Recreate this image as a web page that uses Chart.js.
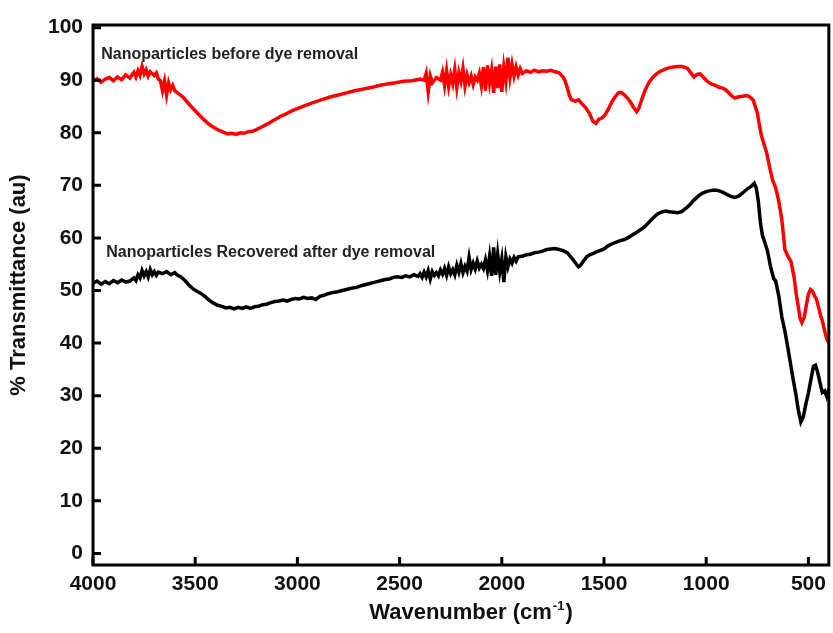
<!DOCTYPE html>
<html><head><meta charset="utf-8">
<script src="https://cdn.jsdelivr.net/npm/chart.js@4/dist/chart.umd.min.js"></script>
<style>html,body{margin:0;padding:0;background:#fff}</style>
</head><body>
<canvas id="c" width="833" height="633"></canvas>
<script>
// ---- data ----
const redWave = [4000,3980,3960,3940,3920,3900,3880,3860,3840,3820,3800,3790,3780,3770,3760,3750,3740,3730,3720,3700,3690,3680,3670,3660,3650,3640,3630,3620,3610,3600,3580,3560,3540,3520,3500,3480,3460,3440,3420,3400,3380,3360,3340,3320,3300,3280,3260,3240,3220,3200,3180,3160,3140,3120,3100,3080,3060,3040,3020,3000,2960,2920,2880,2840,2800,2760,2720,2680,2640,2600,2560,2520,2480,2440,2400,2380,2370,2360,2350,2340,2320,2300,2290,2280,2270,2260,2250,2240,2230,2220,2210,2200,2190,2180,2170,2160,2150,2140,2130,2120,2110,2100,2090,2080,2070,2060,2050,2040,2030,2020,2010,2000,1990,1980,1970,1960,1950,1940,1930,1920,1910,1900,1880,1860,1840,1820,1800,1780,1760,1740,1720,1700,1690,1680,1670,1660,1640,1625,1610,1590,1570,1555,1540,1525,1510,1495,1480,1465,1450,1430,1415,1400,1385,1370,1355,1340,1330,1320,1300,1280,1260,1240,1220,1200,1180,1160,1140,1120,1100,1090,1075,1060,1045,1030,1015,1000,985,970,955,940,920,905,890,875,860,845,830,815,800,790,780,770,760,750,740,730,720,705,690,675,660,645,630,615,600,585,570,560,550,540,532,520,510,500,490,480,470,460,450,440,430,420,410,400];
const redT = [89.8,90.3,89.6,90.2,90.5,89.9,90.6,90.1,91.0,90.4,91.5,90.6,91.8,90.9,92.6,91.2,92.0,90.8,91.6,90.9,91.4,90.2,89.9,88.0,89.8,87.2,89.5,88.2,89.0,88.0,87.4,86.8,85.9,85.0,84.2,83.4,82.6,81.9,81.3,80.8,80.4,80.1,79.8,79.9,79.7,80.0,79.9,80.2,80.3,80.6,81.0,81.4,81.8,82.3,82.7,83.2,83.5,83.9,84.3,84.6,85.2,85.8,86.3,86.8,87.2,87.6,88.0,88.3,88.6,89.0,89.3,89.5,89.8,89.9,90.2,90.0,91.3,87.8,90.8,89.5,90.5,90.0,91.5,89.0,91.8,88.8,91.0,89.4,92.0,88.6,91.4,89.8,92.2,88.9,91.0,89.6,90.8,89.2,90.6,90.0,91.3,89.0,92.5,88.0,92.8,89.5,91.9,87.6,92.6,88.5,93.0,87.8,92.5,89.8,94.3,90.5,93.0,90.8,92.5,91.0,92.2,91.3,91.8,91.5,91.9,91.6,91.8,91.7,91.9,91.6,91.4,90.6,89.8,88.6,87.2,86.3,86.0,86.3,85.6,84.8,83.6,82.2,81.8,82.6,82.8,83.4,84.4,85.6,86.6,87.6,87.7,87.2,86.6,85.8,84.8,84.0,84.6,85.8,88.0,89.6,90.6,91.3,91.8,92.1,92.4,92.5,92.6,92.6,92.4,92.2,91.4,90.6,91.1,91.2,90.6,90.0,89.5,89.2,89.0,88.7,88.5,88.2,87.6,87.0,86.6,86.8,86.9,87.0,87.1,86.9,86.6,86.2,85.0,83.8,81.5,79.5,78.2,76.3,73.5,71.0,69.5,67.0,63.5,57.8,56.5,55.5,52.5,49.5,47.0,44.6,43.9,45.0,47.2,49.3,50.2,49.9,49.0,48.3,46.8,45.2,44.0,42.2,40.8,40.0];

const blackWave = [4000,3980,3960,3940,3920,3900,3880,3860,3840,3820,3800,3790,3780,3770,3760,3750,3740,3730,3720,3710,3700,3690,3680,3660,3640,3620,3600,3590,3570,3550,3530,3510,3490,3470,3450,3430,3410,3390,3370,3350,3330,3310,3290,3270,3250,3230,3210,3190,3170,3150,3130,3110,3090,3070,3050,3030,3010,2990,2970,2950,2930,2910,2890,2870,2850,2830,2810,2790,2770,2750,2730,2710,2690,2670,2650,2630,2610,2590,2570,2550,2530,2510,2490,2470,2450,2430,2410,2400,2390,2380,2370,2360,2350,2340,2330,2320,2310,2300,2290,2280,2270,2260,2250,2240,2230,2220,2210,2200,2190,2180,2170,2160,2150,2140,2130,2120,2110,2100,2090,2080,2070,2060,2050,2040,2030,2020,2010,2000,1990,1980,1970,1960,1950,1940,1930,1920,1900,1880,1860,1840,1820,1800,1780,1760,1740,1720,1700,1680,1665,1650,1635,1625,1615,1600,1585,1570,1555,1540,1520,1500,1480,1460,1440,1420,1400,1380,1360,1340,1320,1300,1280,1260,1240,1220,1200,1180,1160,1140,1120,1100,1080,1060,1040,1020,1000,980,960,940,920,900,880,860,840,820,800,780,765,755,745,735,725,712,700,685,670,660,645,630,615,600,585,575,560,550,537,525,512,500,488,475,465,455,444,432,420,410,400];
const blackT = [51.4,51.8,51.2,51.7,51.3,51.9,51.5,52.0,51.6,51.8,52.4,51.9,53.0,52.4,53.8,52.8,53.6,52.6,54.0,53.0,53.6,52.9,53.5,53.2,53.6,53.0,53.4,53.0,52.6,51.9,51.0,50.3,49.8,49.4,48.8,48.1,47.6,47.2,47.0,46.7,46.8,46.5,46.8,46.6,46.9,46.6,46.9,47.0,47.3,47.4,47.7,47.9,48.0,48.2,48.0,48.3,48.5,48.4,48.7,48.5,48.6,48.3,48.9,49.1,49.4,49.6,49.7,49.9,50.1,50.3,50.5,50.6,50.9,51.1,51.3,51.5,51.7,51.9,52.1,52.2,52.5,52.6,52.5,52.8,52.6,53.0,52.7,53.2,52.5,53.5,52.6,53.8,52.2,53.6,52.9,53.4,52.8,53.9,53.1,54.2,52.9,54.5,53.2,54.0,53.0,54.8,53.5,55.1,53.4,54.6,53.7,56.3,54.0,55.2,54.1,55.6,54.3,55.0,54.2,55.8,53.8,56.5,52.8,58.2,53.0,56.9,53.6,56.0,51.6,56.4,54.5,56.0,55.2,56.3,55.6,56.4,56.5,56.8,56.9,57.2,57.3,57.5,57.8,57.9,58.0,57.8,57.6,57.2,56.5,55.8,55.0,54.5,54.8,55.6,56.4,56.8,57.0,57.3,57.6,57.9,58.5,58.9,59.2,59.5,59.7,60.1,60.6,61.1,61.6,62.2,63.0,63.8,64.5,64.9,65.1,65.0,64.9,64.8,65.0,65.6,66.3,67.2,67.9,68.5,68.8,69.0,69.1,69.0,68.7,68.3,67.9,67.7,68.0,68.6,69.3,69.8,70.4,69.5,67.0,63.0,60.5,59.0,57.5,54.5,52.3,51.8,49.0,45.0,42.3,39.0,35.5,33.2,30.0,27.4,25.0,26.0,28.5,30.5,33.0,35.6,35.8,34.5,32.6,30.6,30.9,29.8,31.2];

const xTicks = [4000,3500,3000,2500,2000,1500,1000,500];
const yTicks = [0,10,20,30,40,50,60,70,80,90,100];
const seriesNames = ["Nanoparticles before dye removal", "Nanoparticles Recovered after dye removal"];
const xTitle = ["Wavenumber (cm", "-1", ")"];
const yTitle = "% Transmittance (au)";

// ---- chart ----
const toPts = (w, t) => w.map((x, i) => ({x: x, y: t[i]}));
const FAM = '"Liberation Sans", Arial, sans-serif';

const frameAndTicks = {
  id: 'frameAndTicks',
  afterDraw(chart) {
    const ctx = chart.ctx, a = chart.chartArea;
    const xs = chart.scales.x, ys = chart.scales.y;
    ctx.save();
    ctx.strokeStyle = '#000';
    ctx.lineWidth = 3;
    ctx.lineCap = 'butt';
    ctx.beginPath();
    xs.ticks.forEach(t => {
      const px = xs.getPixelForValue(t.value);
      ctx.moveTo(px, a.bottom); ctx.lineTo(px, a.bottom - 8);
    });
    ys.ticks.forEach(t => {
      const py = ys.getPixelForValue(t.value);
      ctx.moveTo(a.left, py); ctx.lineTo(a.left + 8, py);
    });
    ctx.stroke();
    ctx.strokeRect(a.left, a.top, a.right - a.left, a.bottom - a.top);
    // series annotations
    ctx.fillStyle = '#222';
    ctx.font = 'bold 16px ' + FAM;
    ctx.textBaseline = 'middle';
    ctx.textAlign = 'left';
    ctx.fillText(seriesNames[0], xs.getPixelForValue(3960), ys.getPixelForValue(94.8));
    ctx.fillText(seriesNames[1], xs.getPixelForValue(3935), ys.getPixelForValue(57.3));
    // x-axis title with superscript
    ctx.fillStyle = '#111';
    const big = 'bold 22px ' + FAM, small = 'bold 13px ' + FAM;
    ctx.font = big; const w1 = ctx.measureText(xTitle[0]).width; const w3 = ctx.measureText(xTitle[2]).width;
    ctx.font = small; const w2 = ctx.measureText(xTitle[1]).width;
    let x0 = 470 - (w1 + w2 + w3) / 2;
    const base = 619;
    ctx.textBaseline = 'alphabetic';
    ctx.font = big; ctx.fillText(xTitle[0], x0, base);
    ctx.font = small; ctx.fillText(xTitle[1], x0 + w1 + 1, base - 9);
    ctx.font = big; ctx.fillText(xTitle[2], x0 + w1 + w2 + 2, base);
    // y-axis title
    ctx.translate(19, 285);
    ctx.rotate(-Math.PI / 2);
    ctx.textAlign = 'center';
    ctx.textBaseline = 'middle';
    ctx.font = big;
    ctx.fillText(yTitle, 0, 0);
    ctx.restore();
  }
};

const tickFont = {family: FAM, size: 21, weight: 'bold'};

new Chart(document.getElementById('c'), {
  type: 'line',
  data: {
    datasets: [
      {label: seriesNames[0], data: toPts(redWave, redT), borderColor: '#ff0000', borderWidth: 3.5, pointRadius: 0, tension: 0, fill: false},
      {label: seriesNames[1], data: toPts(blackWave, blackT), borderColor: '#000000', borderWidth: 3.5, pointRadius: 0, tension: 0, fill: false}
    ]
  },
  options: {
    responsive: false,
    devicePixelRatio: 1,
    animation: false,
    layout: {padding: {top: 25, right: 3, left: 0, bottom: 0}},
    plugins: {legend: {display: false}, tooltip: {enabled: false}},
    scales: {
      x: {
        type: 'linear', reverse: true, min: 400, max: 4000,
        afterBuildTicks: s => { s.ticks = xTicks.map(v => ({value: v})); },
        afterFit: s => { s.height = 68; },
        grid: {display: false, drawTicks: false},
        border: {display: false},
        ticks: {color: '#111', font: tickFont, padding: 7, maxRotation: 0, autoSkip: false, callback: v => String(v)},
        title: {display: false}
      },
      y: {
        type: 'linear', min: -2.2, max: 100.5,
        afterBuildTicks: s => { s.ticks = yTicks.map(v => ({value: v})); },
        afterFit: s => { s.width = 93; },
        grid: {display: false, drawTicks: false},
        border: {display: false},
        ticks: {color: '#111', font: tickFont, padding: 10, autoSkip: false, callback: v => String(v)},
        title: {display: false}
      }
    }
  },
  plugins: [frameAndTicks]
});
</script>
</body></html>
